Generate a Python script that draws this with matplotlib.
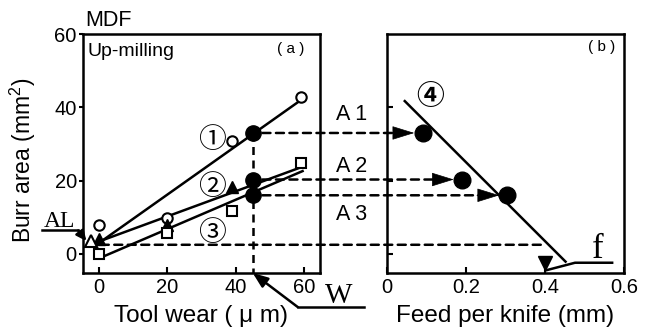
import matplotlib
matplotlib.use("Agg")
import matplotlib.pyplot as plt
from matplotlib.patches import ConnectionPatch, FancyArrowPatch

plt.rcParams['font.family'] = ['Liberation Sans', 'DejaVu Sans']
plt.rcParams['mathtext.default'] = 'regular'

# ---- data ----
wear = [0, 20, 39, 59]                 # tool wear (um)
open_circles = [7.8, 9.7, 30.8, 42.7]  # series 1
wear_tri = [0, 20, 39]
filled_tri = [4.0, 7.9, 18.2]          # series 2
squares = [0.0, 5.8, 11.8, 24.9]       # series 3
al_point_x = [-2.4]
al_point_y = [3.5]

fit_x = [0, 59.6]
fit1 = [3.0, 42.3]
fit2 = [3.4, 23.8]
fit3 = [-1.2, 22.6]

W = 45                                  # chosen tool wear
A_vals = [33.0, 20.3, 16.0]             # A1, A2, A3
A_labels = ['A 1', 'A 2', 'A 3']
feed_A = [0.09, 0.19, 0.305]            # feed per knife for A1..A3
fit4_x = [0.045, 0.452]
fit4_y = [41.7, -2.1]
AL = 2.5
f_val = 0.4

x_ticks_L = [0, 20, 40, 60]
y_ticks = [0, 20, 40, 60]
x_ticks_R = [0, 0.2, 0.4, 0.6]
x_ticklabels_R = ['0', '0.2', '0.4', '0.6']

ylim = (-5.2, 60)

LW = 1.8
fig = plt.figure(figsize=(6.48, 3.34), dpi=100)
axL = fig.add_axes([83/648, 61/334, 237/648, 239/334])
axR = fig.add_axes([387/648, 61/334, 237/648, 239/334])

for ax in (axL, axR):
    for s in ax.spines.values():
        s.set_linewidth(LW)
    ax.set_ylim(*ylim)
    ax.set_yticks(y_ticks)

axL.set_xlim(-4.7, 64.7)
axL.set_xticks(x_ticks_L)
axL.tick_params(axis='y', direction='out', length=3, width=1.5, labelsize=14.5, pad=1.5)
axL.tick_params(axis='x', direction='in', length=4, width=1.5, labelsize=14.5, pad=3.5)

axR.set_xlim(0, 0.6)
axR.set_xticks(x_ticks_R)
axR.set_xticklabels(x_ticklabels_R)
axR.set_yticks(y_ticks[:3])
axR.tick_params(axis='y', direction='in', length=4.5, width=1.5, labelleft=False)
axR.tick_params(axis='x', direction='in', length=4, width=1.5, labelsize=14.5, pad=3.5)

# ---- left panel ----
axL.plot(fit_x, fit1, color='k', lw=LW)
axL.plot(fit_x, fit2, color='k', lw=LW)
axL.plot(fit_x, fit3, color='k', lw=LW)
axL.plot(wear, open_circles, 'o', ms=7.5, mfc='white', mec='k', mew=1.5, ls='none', zorder=4)
axL.plot(wear_tri, filled_tri, '^', ms=8, color='k', ls='none', zorder=4)
axL.plot(wear, squares, 's', ms=6.5, mfc='white', mec='k', mew=1.5, ls='none', zorder=4)
axL.plot(al_point_x, al_point_y, '^', ms=8, mfc='white', mec='k', mew=1.5, ls='none',
         zorder=4, clip_on=False)
axL.plot([W] * 3, A_vals, 'o', ms=11, color='k', ls='none', zorder=5)

dash = (0, (3.2, 2.2))
axL.plot([W, W], [A_vals[0], ylim[0]], color='k', lw=LW, ls=dash)

circ_font = ['Noto Sans CJK JP', 'DejaVu Sans']
for lab, y in zip(['①', '②', '③'], [31, 18.3, 5.7]):
    axL.text(33, y, lab, fontsize=20, family=circ_font, ha='center', va='center')

axL.text(0.017, 0.925, 'Up-milling', transform=axL.transAxes, fontsize=14,
         ha='left', va='center')
axL.text(0.875, 0.937, '( a )', transform=axL.transAxes, fontsize=11,
         ha='center', va='center')
axL.set_xlabel('Tool wear ( μ m)', fontsize=17.5, labelpad=6)
axL.set_ylabel('Burr area (mm$^2$)', fontsize=16.5)
axL.yaxis.set_label_coords(-0.19, 0.47)


def leader(ax, p0, p1, hl=0.9, hw=0.35):
    arr = FancyArrowPatch(posA=p0, posB=p1, transform=ax.transData,
                          arrowstyle=f'-|>,head_length={hl},head_width={hw}',
                          mutation_scale=10, lw=LW, color='k',
                          shrinkA=0, shrinkB=0, clip_on=False, zorder=6)
    ax.add_patch(arr)


# AL annotation
axL.text(-11.6, 7.3, 'AL', family='Liberation Serif', fontsize=17, ha='center',
         va='baseline', clip_on=False)
axL.plot([-16.8, -6.1], [6.4, 6.4], color='k', lw=LW, clip_on=False)
leader(axL, (-6.1, 6.4), (-3.7, 3.5), hl=0.6, hw=0.28)

# W annotation
leader(axL, (58.2, -14.5), (W, ylim[0]))
axL.plot([58.2, 77.5], [-14.5, -14.5], color='k', lw=LW, clip_on=False)
axL.text(70.3, -13.3, 'W', family='Liberation Serif', fontsize=21, ha='center',
         va='baseline', clip_on=False)

fig.text(85/648, 1 - 20/334, 'MDF', fontsize=15.5, ha='left', va='center')

# ---- right panel ----
axR.plot(fit4_x, fit4_y, color='k', lw=LW)
axR.plot(feed_A, A_vals, 'o', ms=12, color='k', ls='none', zorder=5)
axR.plot([f_val], [-2.4], 'v', ms=10, color='k', ls='none', zorder=5)
axR.plot([0.405, 0.476, 0.57], [-4.4, -2.4, -2.4], color='k', lw=LW, clip_on=False)
axR.text(0.534, -1.0, 'f', family='Liberation Serif', fontsize=25, ha='center',
         va='baseline')
axR.text(0.109, 42.8, '④', fontsize=20, family=circ_font, fontweight='bold',
         ha='center', va='center')
axR.text(0.907, 0.946, '( b )', transform=axR.transAxes, fontsize=11,
         ha='center', va='center')
axR.set_xlabel('Feed per knife (mm)', fontsize=17.5, labelpad=6)

# ---- connecting dashed lines with solid arrow heads ----
for yA, xB in zip(A_vals, feed_A):
    con = ConnectionPatch(xyA=(W, yA), coordsA=axL.transData,
                          xyB=(xB, yA), coordsB=axR.transData,
                          lw=LW, ls=dash, color='k',
                          shrinkA=7, shrinkB=20, zorder=3)
    fig.add_artist(con)
    axR.annotate('', xy=(xB, yA), xytext=(-22, 0), textcoords='offset points',
                 arrowprops=dict(arrowstyle='-|>,head_length=1.45,head_width=0.45',
                                 mutation_scale=10, lw=0.5, color='k',
                                 shrinkA=0, shrinkB=6),
                 annotation_clip=False)
con = ConnectionPatch(xyA=(0.5, AL), coordsA=axL.transData,
                      xyB=(f_val, AL), coordsB=axR.transData,
                      lw=LW, ls=dash, color='k', shrinkA=0, shrinkB=0, zorder=3)
fig.add_artist(con)

for lab, yp in zip(A_labels, [115, 167, 215]):
    fig.text(352/648, 1 - yp/334, lab, fontsize=15.5, ha='center', va='center')

fig.savefig('out.png', dpi=100)
